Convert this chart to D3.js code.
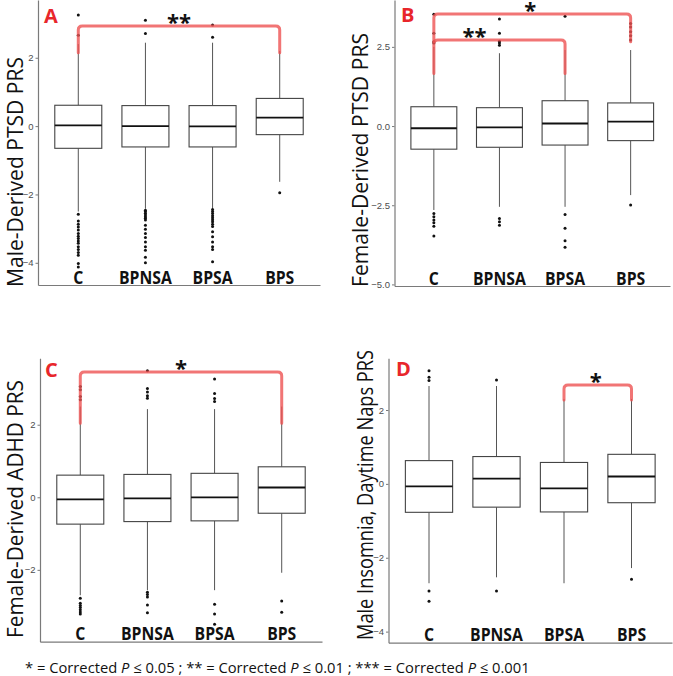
<!DOCTYPE html>
<html>
<head>
<meta charset="utf-8">
<script src="https://cdn.jsdelivr.net/npm/d3@7"></script>
<style>
  body { margin: 0; background: #fff; }
</style>
</head>
<body>
<div id="chart"></div>
<script>
const groups = ['C', 'BPNSA', 'BPSA', 'BPS']

// each box: [lower whisker, q1, median, q3, upper whisker]
const boxesA = [[-2.5, -0.65, 0.02, 0.61, 2.4], [-2.42, -0.61, 0.0, 0.6, 2.44], [-2.42, -0.61, -0.01, 0.6, 2.44], [-1.63, -0.25, 0.25, 0.81, 2.2]]
const outliersA = [
  [2.66, 3.25, -2.58, -2.78, -2.87, -2.95, -3.04, -3.14, -3.22, -3.29, -3.36, -3.43, -3.53, -3.61, -3.7, -3.78, -4.02, -4.12],
  [2.71, 3.1, -2.46, -2.5, -2.55, -2.6, -2.65, -2.7, -2.75, -2.9, -3.02, -3.14, -3.26, -3.39, -3.53, -3.63, -3.84, -4.0],
  [2.6, 2.96, -2.44, -2.5, -2.56, -2.62, -2.68, -2.74, -2.8, -2.87, -2.94, -3.09, -3.24, -3.39, -3.53, -3.61, -3.97],
  [-1.95]
]
const bracketsA = [{ from: 'C', to: 'BPS', y: 2.93, tip: 2.15, label: '**', at: 0.5 }]

const boxesB = [[-2.65, -0.73, -0.07, 0.61, 2.5], [-2.55, -0.67, -0.04, 0.58, 2.3], [-2.55, -0.6, 0.08, 0.8, 2.4], [-2.18, -0.46, 0.14, 0.73, 2.4]]
const outliersB = [
  [2.62, 2.66, 2.93, 3.53, -2.76, -2.86, -2.97, -3.05, -3.16, -3.47],
  [2.55, 2.62, 2.68, 2.93, 3.38, -2.92, -3.02, -3.13],
  [3.47, -2.79, -3.23, -3.62, -3.83],
  [2.72, 2.85, 2.98, 3.13, 3.24, -2.49]
]
const bracketsB = [
  { from: 'C', to: 'BPS', y: 3.54, tip: 2.66, label: '*', at: 0.49 },
  { from: 'C', to: 'BPSA', y: 2.72, tip: 1.66, label: '**', at: 0.31 }
]

const boxesC = [[-2.7, -0.74, -0.06, 0.61, 2.5], [-2.56, -0.67, -0.03, 0.63, 2.43], [-2.56, -0.65, 0.0, 0.66, 2.43], [-2.08, -0.44, 0.27, 0.84, 2.5]]
const outliersC = [
  [2.69, 2.78, 2.96, 3.05, -2.78, -2.92, -2.98, -3.04, -3.1, -3.16, -3.22],
  [2.73, 2.8, 2.9, 3.0, 3.49, -2.62, -2.68, -2.75, -2.97, -3.18],
  [2.64, 2.72, 2.86, 3.26, -2.95, -3.22, -3.5],
  [-2.86, -3.17]
]
const bracketsC = [{ from: 'C', to: 'BPS', y: 3.45, tip: 2.04, label: '*', at: 0.5 }]

const boxesD = [[-2.69, -0.77, -0.07, 0.63, 2.65], [-2.53, -0.63, 0.14, 0.74, 2.65], [-2.69, -0.76, -0.12, 0.58, 2.3], [-2.28, -0.51, 0.2, 0.8, 2.3]]
const outliersD = [
  [2.8, 2.89, 3.06, -2.9, -3.18],
  [2.81, -2.9],
  [],
  [-2.58]
]
const bracketsD = [{ from: 'BPSA', to: 'BPS', y: 2.68, tip: 2.27, label: '*', at: 0.47 }]

const ticksA = [-4, -2, 0, 2]
const ticksB = [-5, -2.5, 0, 2.5]
const ticksC = [-2, 0, 2]
const ticksD = [-4, -2, 0, 2]

const width = 673
const height = 676
const red = '#e8262b'
const font = '"Open Sans", "Noto Sans", sans-serif'

const panels = [
  { letter: 'A', title: 'Male-Derived PTSD PRS', boxes: boxesA, outliers: outliersA, brackets: bracketsA, ticks: ticksA, fmt: d3.format('d'),
    left: 38, right: 320, top: 0, bottom: 285, domain: [-4.65, 3.69], titleX: 13.5, titleY: 172, titleLen: 230, letterX: 44, letterY: 22.7 },
  { letter: 'B', title: 'Female-Derived PTSD PRS', boxes: boxesB, outliers: outliersB, brackets: bracketsB, ticks: ticksB, fmt: d3.format('.1f'),
    left: 394.5, right: 670, top: 0, bottom: 286, domain: [-5.05, 3.98], titleX: 359, titleY: 160, titleLen: 254, letterX: 401, letterY: 21.7 },
  { letter: 'C', title: 'Female-Derived ADHD PRS', boxes: boxesC, outliers: outliersC, brackets: bracketsC, ticks: ticksC, fmt: d3.format('d'),
    left: 40, right: 322, top: 358.3, bottom: 641.7, domain: [-3.98, 3.83], titleX: 13.5, titleY: 509, titleLen: 258, letterX: 45, letterY: 376.7 },
  { letter: 'D', title: 'Male Insomnia, Daytime Naps PRS', boxes: boxesD, outliers: outliersD, brackets: bracketsD, ticks: ticksD, fmt: d3.format('d'),
    left: 388.5, right: 672, top: 358.3, bottom: 642.7, domain: [-4.3, 3.4], titleX: 363.5, titleY: 495, titleLen: 290, letterX: 396, letterY: 376 }
]

const svg = d3.select('#chart')
  .append('svg')
  .attr('width', width)
  .attr('height', height)
  .style('font-family', font)

svg.append('rect').attr('width', width).attr('height', height).attr('fill', '#fff')

// narrow the wide fallback font so it takes the room of the original Calibri text
const squeeze = (sel, k) => sel.each(function () {
  const w = this.getComputedTextLength()
  d3.select(this).attr('textLength', w * k).attr('lengthAdjust', 'spacingAndGlyphs')
})

const drawPanel = (p) => {
  const g = svg.append('g')
  const x = d3.scalePoint().domain(groups).range([p.left, p.right]).padding(0.6)
  const y = d3.scaleLinear().domain(p.domain).range([p.bottom, p.top])
  const bw = x.step() * 0.7

  // axes
  const yAxis = g.append('g')
    .attr('transform', `translate(${p.left},0)`)
    .call(d3.axisLeft(y).tickValues(p.ticks).tickFormat(p.fmt).tickSize(2.5).tickSizeOuter(0).tickPadding(2))
  yAxis.select('.domain').attr('stroke', '#7a7a7a').attr('stroke-width', 1.2)
  yAxis.selectAll('.tick line').attr('stroke', '#7a7a7a')
  yAxis.selectAll('.tick text').attr('fill', '#4d4d4d').attr('font-size', 9.5).style('font-family', '"Liberation Sans", Arial, sans-serif')

  const xAxis = g.append('g')
    .attr('transform', `translate(0,${p.bottom})`)
    .call(d3.axisBottom(x).tickSize(0).tickSizeOuter(0).tickFormat(''))
  xAxis.select('.domain').attr('stroke', '#7a7a7a').attr('stroke-width', 1.2)

  // boxes
  const box = g.selectAll('.box')
    .data(p.boxes.map((b, i) => ({ group: groups[i], lo: b[0], q1: b[1], med: b[2], q3: b[3], hi: b[4] })))
    .join('g')
    .attr('class', 'box')

  box.append('line')
    .attr('x1', (d) => x(d.group)).attr('x2', (d) => x(d.group))
    .attr('y1', (d) => y(d.q3)).attr('y2', (d) => y(d.hi))
    .attr('stroke', '#555').attr('stroke-width', 1)
  box.append('line')
    .attr('x1', (d) => x(d.group)).attr('x2', (d) => x(d.group))
    .attr('y1', (d) => y(d.q1)).attr('y2', (d) => y(d.lo))
    .attr('stroke', '#555').attr('stroke-width', 1)
  box.append('rect')
    .attr('x', (d) => x(d.group) - bw / 2)
    .attr('width', bw)
    .attr('y', (d) => y(d.q3))
    .attr('height', (d) => y(d.q1) - y(d.q3))
    .attr('fill', '#fff')
    .attr('stroke', '#444')
    .attr('stroke-width', 1.1)
  box.append('line')
    .attr('x1', (d) => x(d.group) - bw / 2).attr('x2', (d) => x(d.group) + bw / 2)
    .attr('y1', (d) => y(d.med)).attr('y2', (d) => y(d.med))
    .attr('stroke', '#111').attr('stroke-width', 1.8)

  // outliers
  const pts = p.outliers.flatMap((vals, i) => vals.map((v) => ({ group: groups[i], v })))
  g.selectAll('.out')
    .data(pts)
    .join('circle')
    .attr('class', 'out')
    .attr('cx', (d) => x(d.group))
    .attr('cy', (d) => y(d.v))
    .attr('r', 1.5)
    .attr('fill', '#111')

  // significance brackets
  const r = 4
  p.brackets.forEach((b) => {
    const x1 = x(b.from)
    const x2 = x(b.to)
    const yb = y(b.y)
    const yt = y(b.tip)
    const path = d3.path()
    path.moveTo(x1, yt)
    path.lineTo(x1, yb + r)
    path.quadraticCurveTo(x1, yb, x1 + r, yb)
    path.lineTo(x2 - r, yb)
    path.quadraticCurveTo(x2, yb, x2, yb + r)
    path.lineTo(x2, yt)
    g.append('path')
      .attr('d', path.toString())
      .attr('fill', 'none')
      .attr('stroke', '#ee5252')
      .attr('stroke-opacity', 0.8)
      .attr('stroke-width', 3)
      .attr('stroke-linecap', 'round')
    g.append('text')
      .attr('x', x1 + (x2 - x1) * b.at)
      .attr('y', yb + 4)
      .attr('text-anchor', 'middle')
      .attr('font-size', 22)
      .attr('font-weight', 700)
      .attr('fill', '#111')
      .text(b.label)
  })

  // category labels sit just above the x axis, inside the plot
  g.selectAll('.cat')
    .data(groups)
    .join('text')
    .attr('class', 'cat')
    .attr('x', (d) => x(d))
    .attr('y', p.bottom - 1.5)
    .attr('text-anchor', 'middle')
    .attr('font-size', 17.5)
    .attr('font-weight', 700)
    .attr('fill', '#111')
    .text((d) => d)
    .call(squeeze, 0.9)

  // panel letter
  g.append('text')
    .attr('x', p.letterX)
    .attr('y', p.letterY)
    .attr('font-size', 20)
    .attr('font-weight', 700)
    .attr('fill', red)
    .text(p.letter)

  // y title
  g.append('text')
    .attr('transform', `translate(${p.titleX},${p.titleY}) rotate(-90)`)
    .attr('text-anchor', 'middle')
    .attr('dominant-baseline', 'central')
    .attr('font-size', 22)
    .attr('fill', '#111')
    .attr('textLength', p.titleLen)
    .attr('lengthAdjust', 'spacingAndGlyphs')
    .text(p.title)
}

panels.forEach(drawPanel)

// footnote, narrowed as a whole with a horizontal scale
const note = svg.append('text')
  .attr('x', 0)
  .attr('y', 0)
  .attr('font-size', 15)
  .attr('fill', '#111')
const parts = [
  ['* = Corrected ', false], ['P', true], [' \u2264 0.05 ; ** = Corrected ', false], ['P', true],
  [' \u2264 0.01 ; *** = Corrected ', false], ['P', true], [' \u2264 0.001', false]
]
parts.forEach(([t, it]) => {
  note.append('tspan').attr('font-style', it ? 'italic' : 'normal').text(t)
})
const noteW = note.node().getComputedTextLength()
note.attr('transform', `translate(25,673) scale(${505 / noteW},1)`)
</script>
</body>
</html>
